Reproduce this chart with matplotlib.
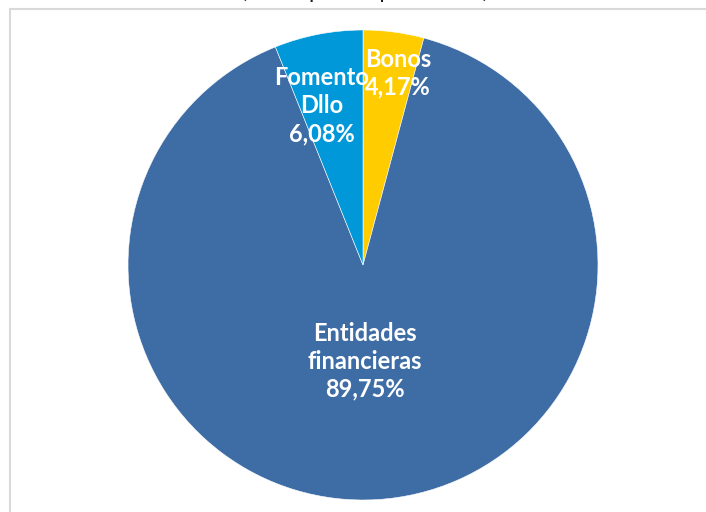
import matplotlib.pyplot as plt
import numpy as np
from matplotlib.patches import Rectangle

labels = ["Bonos", "Entidades\nfinancieras", "Fomento\nDllo"]
shares = [4.17, 89.75, 6.08]
colors = ["#FFCC00", "#3E6DA6", "#0098D8"]

# label distance (fraction of radius) and angle nudge in degrees, per slice
label_dist = [0.83, 0.41, 0.70]
label_nudge = [-2.8, -2.3, 3.5]

plt.rcParams["font.family"] = ["Lato", "DejaVu Sans"]

fig = plt.figure(figsize=(7.06, 5.12), dpi=100)

# chart area border (cut off at right and bottom)
fig.patches.append(Rectangle((10 / 706, -0.1), 1.2, (512 - 9) / 512 + 0.1,
                             transform=fig.transFigure, fill=False,
                             edgecolor="#D9D9D9", lw=1.5))

# title, mostly out of frame as in the source image
fig.text(365 / 706, 1.0 + 8 / 512, "(Participación por fuente)",
         ha="center", va="center", fontsize=16, color="#1a1a1a")

cx, cy, r = 363, 265, 235
ax = fig.add_axes([(cx - r) / 706, (512 - cy - r) / 512, 2 * r / 706, 2 * r / 512])
wedges, _ = ax.pie(shares, colors=colors, startangle=90, counterclock=False,
                   radius=1, wedgeprops=dict(edgecolor="white", linewidth=0.4))
ax.set_xlim(-1, 1)
ax.set_ylim(-1, 1)
ax.set_aspect("equal")
ax.axis("off")

for w, lab, val, d, nudge in zip(wedges, labels, shares, label_dist, label_nudge):
    ang = np.deg2rad((w.theta1 + w.theta2) / 2 + nudge)
    txt = lab + "\n" + f"{val:.2f}".replace(".", ",") + "%"
    ax.text(d * np.cos(ang), d * np.sin(ang), txt, ha="center", va="center",
            color="white", fontsize=17, fontweight="bold", linespacing=1.25)

fig.savefig("out.png", dpi=100)
